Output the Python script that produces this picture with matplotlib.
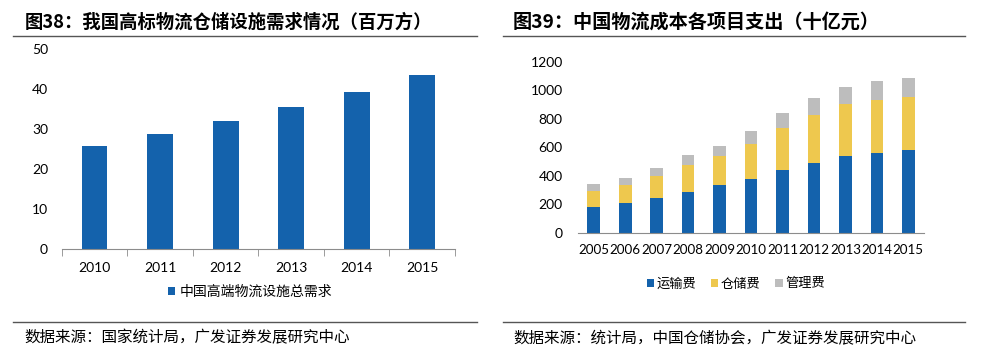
import matplotlib
matplotlib.use('Agg')
import matplotlib.pyplot as plt
from matplotlib.lines import Line2D
import numpy as np

plt.rcParams['font.family'] = ['Lato', 'Noto Sans CJK SC', 'DejaVu Sans']
CJK = ['Noto Sans CJK SC', 'DejaVu Sans']

# left chart data
years_l = ['2010', '2011', '2012', '2013', '2014', '2015']
demand = [25.8, 28.7, 32.0, 35.5, 39.3, 43.4]

# right chart data
years_r = ['2005', '2006', '2007', '2008', '2009', '2010',
           '2011', '2012', '2013', '2014', '2015']
transport = [183, 209, 246, 286, 335, 380, 441, 490, 539, 560, 581]
storage = [108, 126, 152, 190, 204, 243, 295, 337, 368, 373, 375]
management = [49, 49, 57, 70, 70, 89, 108, 117, 117, 131, 129]

blue = '#1462AC'
yellow = '#EEC84E'
gray = '#BDBDBD'
axis_col = '#8C8C8C'

fig = plt.figure(figsize=(9.98, 3.59), dpi=100)

# ---- left: 图38
ax1 = fig.add_axes([0.0621, 0.3064, 0.3938, 0.557])
x1 = np.arange(len(years_l))
b1 = ax1.bar(x1, demand, width=0.39, color=blue, label='中国高端物流设施总需求')
ax1.set_xlim(-0.5, len(years_l) - 0.5)
ax1.set_ylim(0, 50)
ax1.set_yticks([0, 10, 20, 30, 40, 50])
ax1.set_xticks(x1)
ax1.set_xticklabels(years_l)
ax1.set_xticks(np.arange(-0.5, len(years_l)), minor=True)
ax1.tick_params(axis='x', which='major', length=0, pad=9, labelsize=10)
ax1.tick_params(axis='x', which='minor', length=5, color=axis_col, direction='out')
ax1.tick_params(axis='y', length=0, pad=10, labelsize=10)
for s in ['top', 'right', 'left']:
    ax1.spines[s].set_visible(False)
ax1.spines['bottom'].set_color(axis_col)
ax1.legend(handles=[b1], loc='center', bbox_to_anchor=(250 / 998, 1 - 291.7 / 359),
           bbox_transform=fig.transFigure, frameon=False, prop={'family': CJK, 'size': 10},
           handlelength=0.55, handleheight=0.55, handletextpad=0.3)

# ---- right: 图39
ax2 = fig.add_axes([0.5792, 0.3518, 0.3467, 0.4755])
x2 = np.arange(len(years_r))
bot2 = np.array(transport)
bot3 = bot2 + np.array(storage)
h1 = ax2.bar(x2, transport, width=0.4, color=blue, label='运输费')
h2 = ax2.bar(x2, storage, width=0.4, bottom=bot2, color=yellow, label='仓储费')
h3 = ax2.bar(x2, management, width=0.4, bottom=bot3, color=gray, label='管理费')
ax2.set_xlim(-0.5, len(years_r) - 0.5)
ax2.set_ylim(0, 1200)
ax2.set_yticks(range(0, 1201, 200))
ax2.set_xticks(x2)
ax2.set_xticklabels(years_r)
ax2.tick_params(axis='x', length=0, pad=8, labelsize=9.6)
ax2.tick_params(axis='y', length=0, pad=11, labelsize=10)
for s in ['top', 'right', 'left']:
    ax2.spines[s].set_visible(False)
ax2.spines['bottom'].set_color(axis_col)
ax2.legend(handles=[h1, h2, h3], loc='center', bbox_to_anchor=(736 / 998, 1 - 284 / 359),
           bbox_transform=fig.transFigure, frameon=False, ncol=3,
           prop={'family': CJK, 'size': 9.5}, handlelength=0.55, handleheight=0.55,
           handletextpad=0.2, columnspacing=1.1)

# ---- titles, rules and sources
fig.text(25 / 998, 1 - 22 / 359, '图38：我国高标物流仓储设施需求情况（百万方）',
         family=CJK, fontsize=13.2, fontweight='bold', va='center', ha='left')
fig.text(513 / 998, 1 - 22 / 359, '图39：中国物流成本各项目支出（十亿元）',
         family=CJK, fontsize=13.8, fontweight='bold', va='center', ha='left')

for x0, x1_ in [(13, 477), (503, 965)]:
    fig.add_artist(Line2D([x0 / 998, x1_ / 998], [1 - 36 / 359] * 2, color='#555555', lw=1))
    fig.add_artist(Line2D([x0 / 998, x1_ / 998], [1 - 322.3 / 359] * 2, color='#555555', lw=1))

fig.text(24 / 998, 1 - 338 / 359, '数据来源：国家统计局，广发证券发展研究中心',
         family=CJK, fontsize=11.2, va='center', ha='left')
fig.text(513 / 998, 1 - 339 / 359, '数据来源：统计局，中国仓储协会，广发证券发展研究中心',
         family=CJK, fontsize=11.2, va='center', ha='left')

fig.savefig('out.png', dpi=100)
